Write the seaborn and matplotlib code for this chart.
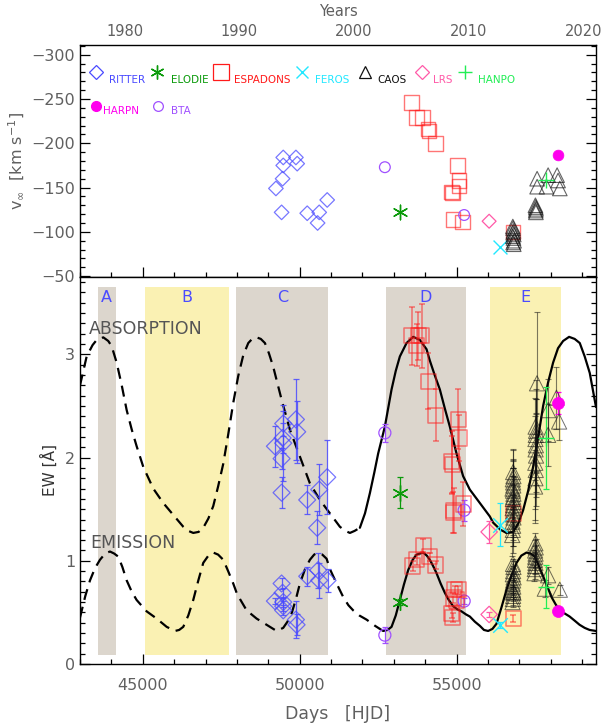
import numpy as np
import matplotlib
matplotlib.use("Agg")
import matplotlib.pyplot as plt
from matplotlib.ticker import MultipleLocator, FixedLocator
import seaborn as sns

sns.set_theme(style="white")
plt.rcParams['font.family'] = ['DejaVu Sans']

# ---------------------------------------------------------------- data
# Terminal velocity (km/s) per instrument
ritter_t = [49475, 49879, 49475, 49920, 49455, 49242, 49423, 50239, 50621, 50570, 50876]
ritter_v = [-184, -184, -175, -177, -160, -149, -122, -121, -122, -110, -136]
elodie_t = [53191]
elodie_v = [-122]
espadons_t = [53563, 53722, 53912, 54114, 54090, 54327, 55028, 55070, 55070, 54837, 54860, 54889, 55187, 56800]
espadons_v = [-246, -229, -229, -214, -216, -200, -175, -158, -152, -145, -144, -114, -111, -100]
feros_t = [56376]
feros_v = [-83]
caos_t = [56790, 56800, 56810, 56800, 56820, 56790, 56810, 56830, 56800, 56820,
          57510, 57520, 57530, 57520, 57525,
          57564, 57915, 58201, 57564, 57862, 58287, 58232]
caos_v = [-106, -104, -101, -99, -97, -95, -93, -90, -88, -86,
          -130, -128, -126, -124, -122,
          -160, -164, -164, -151, -151, -149, -158]
lrs_t = [56035]
lrs_v = [-112]
hanpo_t = [57861]
hanpo_v = [-158]
harpn_t = [58232]
harpn_v = [-187]
bta_t = [52713, 55239]
bta_v = [-173, -119]

# Equivalent widths (Angstrom): absorption and emission components
ritter_ew_t = [49210, 49475, 49455, 49475, 49423, 49423, 49879, 49920, 50239, 50621, 50557, 50876]
ritter_abs = [2.11, 2.33, 2.19, 2.14, 1.99, 1.66, 2.37, 2.25, 1.59, 1.69, 1.32, 1.81]
ritter_abs_err = [0.20, 0.12, 0.15, 0.37, 0.10, 0.15, 0.39, 0.30, 0.14, 0.25, 0.16, 0.36]
ritter_em_t = [49210, 49423, 49455, 49475, 49475, 49475, 49879, 49900, 50239, 50589, 50621, 50887]
ritter_em = [0.61, 0.78, 0.69, 0.60, 0.56, 0.52, 0.43, 0.38, 0.85, 0.91, 0.81, 0.81]
ritter_em_err = [0.03, 0.05, 0.05, 0.05, 0.05, 0.05, 0.18, 0.10, 0.09, 0.17, 0.17, 0.11]

elodie_abs, elodie_abs_err = [1.66], [0.15]
elodie_em, elodie_em_err = [0.60], [0.03]

bta_abs, bta_abs_err = [2.24, 1.49], [0.09, 0.10]
bta_em, bta_em_err = [0.28, 0.61], [0.08, 0.03]

espadons_abs_t = [53563, 53775, 53881, 53722, 54093, 54337, 55048, 55080, 54837, 54860, 54911, 54890, 55207, 56800]
espadons_abs = [3.18, 3.18, 3.18, 3.09, 2.74, 2.41, 2.37, 2.19, 1.96, 1.93, 1.49, 1.47, 1.55, 1.46]
espadons_abs_err = [0.28, 0.23, 0.31, 0.20, 0.27, 0.25, 0.29, 0.22, 0.30, 0.28, 0.22, 0.20, 0.21, 0.05]
espadons_em_t = [53934, 53722, 53594, 54146, 54337, 54943, 55048, 54889, 54996, 54837, 54870, 56800]
espadons_em = [1.15, 1.01, 0.95, 1.04, 0.96, 0.72, 0.72, 0.64, 0.62, 0.49, 0.45, 0.44]
espadons_em_err = [0.06, 0.05, 0.05, 0.04, 0.04, 0.04, 0.04, 0.05, 0.05, 0.04, 0.04, 0.03]

feros_abs, feros_abs_err = [1.35], [0.21]
feros_em, feros_em_err = [0.38], [0.03]
lrs_abs, lrs_abs_err = [1.28], [0.11]
lrs_em, lrs_em_err = [0.48], [0.02]
hanpo_abs, hanpo_abs_err = [2.19], [0.49]
hanpo_em, hanpo_em_err = [0.75], [0.21]
harpn_abs, harpn_abs_err = [2.53], [0.11]
harpn_em, harpn_em_err = [0.51], [0.02]

caos_abs_t = [56770, 56790, 56800, 56780, 56810, 56795, 56805, 56785, 56800, 56815,
              56790, 56800, 56810, 56795, 56780, 56805, 56800, 56790, 56810, 56800,
              57500, 57510, 57520, 57505, 57530, 57515, 57525, 57510, 57520, 57530, 57515, 57560,
              57915, 57915, 58180, 58265]
caos_abs = [1.25, 1.30, 1.34, 1.38, 1.42, 1.45, 1.48, 1.51, 1.54, 1.57,
            1.60, 1.62, 1.65, 1.68, 1.70, 1.73, 1.76, 1.79, 1.82, 1.86,
            1.72, 1.80, 1.88, 1.95, 2.02, 2.08, 2.12, 2.18, 2.22, 2.26, 2.30, 2.72,
            2.46, 2.22, 2.58, 2.35]
caos_abs_err = [0.20, 0.22, 0.20, 0.24, 0.22, 0.20, 0.25, 0.22, 0.20, 0.24,
                0.22, 0.20, 0.25, 0.22, 0.20, 0.24, 0.22, 0.20, 0.25, 0.22,
                0.35, 0.40, 0.35, 0.45, 0.40, 0.35, 0.45, 0.40, 0.35, 0.40, 0.45, 0.69,
                0.30, 0.30, 0.30, 0.18]
caos_em_t = [56780, 56790, 56800, 56810, 56795, 56805, 56785, 56800, 56815, 56790,
             56800, 56810, 56795, 56800,
             57480, 57490, 57500, 57510, 57495, 57505, 57515, 57500, 57520, 57510,
             57915, 57808, 58287]
caos_em = [0.60, 0.63, 0.66, 0.69, 0.72, 0.75, 0.78, 0.81, 0.84, 0.87,
           0.90, 0.94, 0.97, 0.70,
           0.88, 0.92, 0.95, 0.98, 1.01, 1.04, 1.07, 1.10, 1.13, 1.17,
           0.86, 0.73, 0.72]
caos_em_err = [0.05, 0.06, 0.05, 0.06, 0.05, 0.06, 0.05, 0.06, 0.05, 0.06,
               0.05, 0.06, 0.05, 0.05,
               0.08, 0.10, 0.08, 0.10, 0.08, 0.10, 0.08, 0.10, 0.08, 0.10,
               0.08, 0.08, 0.05]

# Model curves for absorption and emission EW
abs_curve_t = [43000, 43212, 43400, 43531, 43743, 43900, 44009, 44168, 44330, 44487,
               44650, 44805, 45016, 45334, 45653, 45971, 46290, 46450, 46608, 46780,
               46927, 47090, 47245, 47400, 47564, 47720, 47882, 48041, 48200, 48361,
               48500, 48627, 48760, 48892, 49020, 49156, 49290, 49424, 49688, 50006,
               50325, 50643, 50962, 51280, 51450, 51600, 51750, 51917, 52080, 52236,
               52380, 52500, 52713, 52926, 53060, 53191, 53404, 53616, 53828, 54041,
               54146, 54300, 54465, 54620, 54783, 54996, 55207, 55420, 55739, 56057,
               56162, 56400, 56589, 56800, 56960, 57118, 57280, 57436, 57600, 57755,
               57915, 58073, 58230, 58392, 58583, 58760, 58923, 59080, 59241, 59440]
abs_curve = [2.70, 2.98, 3.09, 3.14, 3.165, 3.13, 3.08, 2.92, 2.70, 2.46,
             2.27, 2.11, 1.91, 1.70, 1.56, 1.445, 1.33, 1.29, 1.27, 1.28,
             1.32, 1.41, 1.53, 1.72, 1.94, 2.22, 2.53, 2.79, 2.99, 3.11,
             3.155, 3.165, 3.15, 3.11, 3.01, 2.88, 2.72, 2.56, 2.27, 2.01,
             1.75, 1.59, 1.46, 1.33, 1.29, 1.27, 1.29, 1.32, 1.46, 1.656,
             1.86, 2.04, 2.30, 2.66, 2.84, 2.98, 3.11, 3.17, 3.14, 3.05,
             2.94, 2.80, 2.66, 2.48, 2.30, 2.04, 1.82, 1.69, 1.56, 1.43,
             1.37, 1.30, 1.27, 1.28, 1.36, 1.49, 1.68, 1.91, 2.20, 2.50,
             2.73, 2.92, 3.06, 3.13, 3.17, 3.15, 3.11, 2.98, 2.82, 2.49]
abs_fit_start = 51917

em_curve_t = [43000, 43170, 43318, 43480, 43637, 43800, 43955, 44090, 44220, 44350,
              44487, 44650, 44805, 45124, 45443, 45761, 46025, 46160, 46290, 46450,
              46608, 46770, 46927, 47090, 47245, 47400, 47564, 47720, 47882, 47990,
              48096, 48308, 48627, 48945, 49264, 49474, 49610, 49742, 49880, 50006,
              50170, 50325, 50460, 50589, 50720, 50857, 50962, 51175, 51385, 51550,
              51703, 51900, 52130, 52400, 52554, 52660, 52800, 52926, 53060, 53191,
              53320, 53456, 53600, 53722, 53934, 54050, 54146, 54250, 54359, 54490,
              54624, 54750, 54889, 55020, 55155, 55300, 55420, 55580, 55739, 55870,
              56003, 56140, 56270, 56430, 56589, 56750, 56907, 57060, 57226, 57360,
              57490, 57620, 57755, 57890, 58020, 58150, 58280, 58440, 58600, 58760,
              58917, 59080, 59236, 59440]
em_curve = [0.45, 0.66, 0.81, 0.93, 1.01, 1.07, 1.09, 1.07, 1.04, 0.94,
            0.81, 0.70, 0.62, 0.51, 0.44, 0.36, 0.32, 0.33, 0.36, 0.47,
            0.62, 0.81, 0.98, 1.05, 1.08, 1.06, 1.01, 0.90, 0.78, 0.69,
            0.63, 0.52, 0.44, 0.38, 0.32, 0.35, 0.41, 0.49, 0.63, 0.78,
            0.92, 1.01, 1.06, 1.08, 1.06, 1.02, 0.92, 0.78, 0.65, 0.57,
            0.52, 0.47, 0.43, 0.37, 0.34, 0.32, 0.33, 0.36, 0.47, 0.62,
            0.77, 0.91, 1.01, 1.06, 1.08, 1.05, 1.01, 0.95, 0.88, 0.78,
            0.69, 0.62, 0.56, 0.53, 0.51, 0.48, 0.46, 0.41, 0.37, 0.33,
            0.32, 0.34, 0.39, 0.55, 0.72, 0.86, 0.98, 1.05, 1.08, 1.07,
            1.04, 0.95, 0.85, 0.75, 0.65, 0.58, 0.52, 0.49, 0.46, 0.42,
            0.38, 0.35, 0.33, 0.32]
em_fit_start = 52554

# Observing epochs (shaded)
band_names = ["A", "B", "C", "D", "E"]
band_start = [43570, 45070, 47980, 52740, 56060]
band_end = [44140, 47740, 50910, 55290, 58320]
band_colors = ["#dcd6cd", "#faf1b3", "#dcd6cd", "#dcd6cd", "#faf1b3"]

# ---------------------------------------------------------------- styling
C_RITTER = "#4a4aff"
C_ELODIE = "#0a9a0a"
C_ESPADONS = "#ff1a1a"
C_FEROS = "#22e8ff"
C_CAOS = "#111111"
C_LRS = "#ff5aa8"
C_HANPO = "#22ee55"
C_HARPN = "#ff00ee"
C_BTA = "#a050ff"
TXT = "#606060"

XMIN, XMAX = 43000, 59440

fig = plt.figure(figsize=(6.02, 7.25), dpi=100)
ax_v = fig.add_axes([80 / 602, 1 - 277 / 725, 516 / 602, 232 / 725])
ax_ew = fig.add_axes([80 / 602, 1 - 664 / 725, 516 / 602, 387 / 725])

for ax in (ax_v, ax_ew):
    ax.set_facecolor("white")
    for s in ax.spines.values():
        s.set_color("black")
        s.set_linewidth(1.0)
    ax.set_xlim(XMIN, XMAX)
    ax.xaxis.set_major_locator(MultipleLocator(5000))
    ax.xaxis.set_minor_locator(MultipleLocator(1000))
    ax.tick_params(which="both", direction="in", colors="black", labelcolor=TXT,
                   labelsize=11.5, right=True, left=True)
    ax.tick_params(which="major", length=7, width=0.9)
    ax.tick_params(which="minor", length=3.5, width=0.9)


def hollow(ax, x, y, marker, color, s, lw=0.9, alpha=1.0, z=3):
    sns.scatterplot(x=x, y=y, ax=ax, marker=marker, s=s, facecolor="none",
                    edgecolor=color, linewidth=lw, alpha=alpha, zorder=z, legend=False)


def lineart(ax, x, y, marker, color, s, lw=1.0, alpha=1.0, z=3):
    sns.scatterplot(x=x, y=y, ax=ax, marker=marker, s=s, color=color,
                    linewidth=lw, alpha=alpha, zorder=z, legend=False)


def filled(ax, x, y, color, s, z=4):
    sns.scatterplot(x=x, y=y, ax=ax, marker="o", s=s, color=color,
                    edgecolor=color, linewidth=0.5, zorder=z, legend=False)


ASTER = (6, 2, 0)

# ---------------------------------------------------------------- top panel
ax_v.set_ylim(-49, -311)
ax_v.yaxis.set_major_locator(FixedLocator([-300, -250, -200, -150, -100, -50]))
ax_v.yaxis.set_minor_locator(MultipleLocator(10))
ax_v.tick_params(axis="x", which="both", labelbottom=False, top=False, bottom=True)

hollow(ax_v, ritter_t, ritter_v, "D", C_RITTER, 55, alpha=0.75)
lineart(ax_v, elodie_t, elodie_v, ASTER, C_ELODIE, 110)
hollow(ax_v, espadons_t, espadons_v, "s", C_ESPADONS, 110, lw=1.0, alpha=0.6)
lineart(ax_v, feros_t, feros_v, "x", C_FEROS, 100)
hollow(ax_v, caos_t, caos_v, "^", C_CAOS, 110, lw=0.8, alpha=0.65)
hollow(ax_v, lrs_t, lrs_v, "D", C_LRS, 50)
lineart(ax_v, hanpo_t, hanpo_v, "+", C_HANPO, 130)
filled(ax_v, harpn_t, harpn_v, C_HARPN, 60)
hollow(ax_v, bta_t, bta_v, "o", C_BTA, 60)

ax_v.set_ylabel(r"v$_{\infty}$  [km s$^{-1}$]", color=TXT, fontsize=11.5, labelpad=3)

# year axis on top
def hjd_to_year(t):
    return 1999.5 + (np.asarray(t) - 51544.5) / 365.25


def year_to_hjd(y):
    return 51544.5 + (np.asarray(y) - 1999.5) * 365.25


sec = ax_v.secondary_xaxis("top", functions=(hjd_to_year, year_to_hjd))
sec.set_xticks([1980, 1990, 2000, 2010, 2020])
sec.tick_params(direction="in", length=0, labelcolor=TXT, labelsize=10.5, pad=4)
sec.set_xlabel("Years", color=TXT, fontsize=10.5, labelpad=6)
sec.spines["top"].set_visible(False)

# instrument key
key = [
    (0.031, 0.884, 0.0554, 0.851, "RITTER", "D", C_RITTER, 7, "hollow"),
    (0.150, 0.884, 0.176, 0.851, "ELODIE", ASTER, C_ELODIE, 10, "line"),
    (0.273, 0.884, 0.298, 0.851, "ESPADONS", "s", C_ESPADONS, 11, "hollow"),
    (0.431, 0.884, 0.455, 0.851, "FEROS", "x", C_FEROS, 9, "line"),
    (0.552, 0.884, 0.576, 0.851, "CAOS", "^", C_CAOS, 9, "hollow"),
    (0.662, 0.884, 0.684, 0.851, "LRS", "D", C_LRS, 7, "hollow"),
    (0.747, 0.884, 0.771, 0.851, "HANPO", "+", C_HANPO, 10, "line"),
    (0.031, 0.739, 0.0446, 0.717, "HARPN", "o", C_HARPN, 7, "filled"),
    (0.151, 0.739, 0.176, 0.717, "BTA", "o", C_BTA, 7, "hollow"),
]
for mx, my, tx, ty, name, mk, col, ms, kind in key:
    if kind == "hollow":
        ax_v.plot([mx], [my], marker=mk, ms=ms, mfc="none", mec=col, mew=0.9,
                  transform=ax_v.transAxes, clip_on=False, ls="none")
    elif kind == "filled":
        ax_v.plot([mx], [my], marker=mk, ms=ms, mfc=col, mec=col,
                  transform=ax_v.transAxes, clip_on=False, ls="none")
    else:
        ax_v.plot([mx], [my], marker=mk, ms=ms, color=col, mew=1.0,
                  transform=ax_v.transAxes, clip_on=False, ls="none")
    ax_v.text(tx, ty, name, color=col, fontsize=7.5, transform=ax_v.transAxes,
              ha="left", va="center")

# ---------------------------------------------------------------- bottom panel
ax_ew.set_ylim(0, 3.75)
ax_ew.yaxis.set_major_locator(FixedLocator([0, 1, 2, 3]))
ax_ew.yaxis.set_minor_locator(MultipleLocator(0.1))
ax_ew.tick_params(axis="x", which="both", top=False, bottom=True, pad=10)

for name, a, b, c in zip(band_names, band_start, band_end, band_colors):
    ax_ew.fill_between([a, b], 0.09, 3.65, color=c, lw=0, zorder=0)
    ax_ew.text((a + b) / 2, 3.555, name, ha="center", va="center",
               color="#4b4bff", fontsize=11.5, zorder=1)

ax_ew.text(43290, 3.25, "ABSORPTION", color="#555555", fontsize=12.5,
           ha="left", va="center", zorder=1)
ax_ew.text(43320, 1.17, "EMISSION", color="#555555", fontsize=12.5,
           ha="left", va="center", zorder=1)

# model curves: dashed before the fitted interval, solid inside it
abs_t = np.array(abs_curve_t)
abs_y = np.array(abs_curve)
em_t = np.array(em_curve_t)
em_y = np.array(em_curve)
for t, y, split in ((abs_t, abs_y, abs_fit_start), (em_t, em_y, em_fit_start)):
    pre = t <= split
    post = t >= split
    sns.lineplot(x=t[pre], y=y[pre], ax=ax_ew, color="black", lw=1.6,
                 linestyle=(0, (5, 3.2)), sort=False, zorder=2)
    sns.lineplot(x=t[post], y=y[post], ax=ax_ew, color="black", lw=1.6,
                 sort=False, zorder=2)


def ebar(x, y, e, color, alpha=1.0, lw=0.9):
    ax_ew.errorbar(x, y, yerr=e, fmt="none", ecolor=color, elinewidth=lw,
                   capsize=2.5, capthick=lw, alpha=alpha, zorder=3)


# RITTER
ebar(ritter_ew_t, ritter_abs, ritter_abs_err, C_RITTER, 0.85)
ebar(ritter_em_t, ritter_em, ritter_em_err, C_RITTER, 0.85)
hollow(ax_ew, ritter_ew_t, ritter_abs, "D", C_RITTER, 75, alpha=0.75, z=4)
hollow(ax_ew, ritter_em_t, ritter_em, "D", C_RITTER, 75, alpha=0.75, z=4)

# BTA
ebar(bta_t, bta_abs, bta_abs_err, C_BTA)
ebar(bta_t, bta_em, bta_em_err, C_BTA)
hollow(ax_ew, bta_t, bta_abs, "o", C_BTA, 75, z=4)
hollow(ax_ew, bta_t, bta_em, "o", C_BTA, 75, z=4)

# ELODIE
ebar(elodie_t, elodie_abs, elodie_abs_err, C_ELODIE)
ebar(elodie_t, elodie_em, elodie_em_err, C_ELODIE)
lineart(ax_ew, elodie_t, elodie_abs, ASTER, C_ELODIE, 130, z=4)
lineart(ax_ew, elodie_t, elodie_em, ASTER, C_ELODIE, 130, z=4)

# ESPADONS
ebar(espadons_abs_t, espadons_abs, espadons_abs_err, C_ESPADONS, 0.55, lw=1.1)
ebar(espadons_em_t, espadons_em, espadons_em_err, C_ESPADONS, 0.55, lw=1.1)
hollow(ax_ew, espadons_abs_t, espadons_abs, "s", C_ESPADONS, 120, lw=1.1, alpha=0.55, z=4)
hollow(ax_ew, espadons_em_t, espadons_em, "s", C_ESPADONS, 120, lw=1.1, alpha=0.55, z=4)

# CAOS
ebar(caos_abs_t, caos_abs, caos_abs_err, C_CAOS, 0.55, lw=0.8)
ebar(caos_em_t, caos_em, caos_em_err, C_CAOS, 0.55, lw=0.8)
hollow(ax_ew, caos_abs_t, caos_abs, "^", C_CAOS, 120, lw=0.7, alpha=0.6, z=4)
hollow(ax_ew, caos_em_t, caos_em, "^", C_CAOS, 120, lw=0.7, alpha=0.6, z=4)

# LRS
ebar(lrs_t, lrs_abs, lrs_abs_err, C_LRS)
ebar(lrs_t, lrs_em, lrs_em_err, C_LRS)
hollow(ax_ew, lrs_t, lrs_abs, "D", C_LRS, 70, z=4)
hollow(ax_ew, lrs_t, lrs_em, "D", C_LRS, 70, z=4)

# FEROS
ebar(feros_t, feros_abs, feros_abs_err, C_FEROS)
ebar(feros_t, feros_em, feros_em_err, C_FEROS)
lineart(ax_ew, feros_t, feros_abs, "x", C_FEROS, 110, z=4)
lineart(ax_ew, feros_t, feros_em, "x", C_FEROS, 110, z=4)

# HANPO
ebar(hanpo_t, hanpo_abs, hanpo_abs_err, C_HANPO)
ebar(hanpo_t, hanpo_em, hanpo_em_err, C_HANPO)
lineart(ax_ew, hanpo_t, hanpo_abs, "+", C_HANPO, 130, z=4)
lineart(ax_ew, hanpo_t, hanpo_em, "+", C_HANPO, 130, z=4)

# HARPN
ebar(harpn_t, harpn_abs, harpn_abs_err, C_HARPN)
filled(ax_ew, harpn_t, harpn_abs, C_HARPN, 75, z=5)
filled(ax_ew, harpn_t, harpn_em, C_HARPN, 75, z=5)

ax_ew.set_xlabel("Days   [HJD]", color=TXT, fontsize=12.5, labelpad=9)
ax_ew.set_ylabel("EW [Å]", color="#333333", fontsize=11, labelpad=5)
ax_ew.set_xticks([45000, 50000, 55000])
ax_ew.set_xticklabels(["45000", "50000", "55000"])

fig.savefig("out.png", dpi=100)
